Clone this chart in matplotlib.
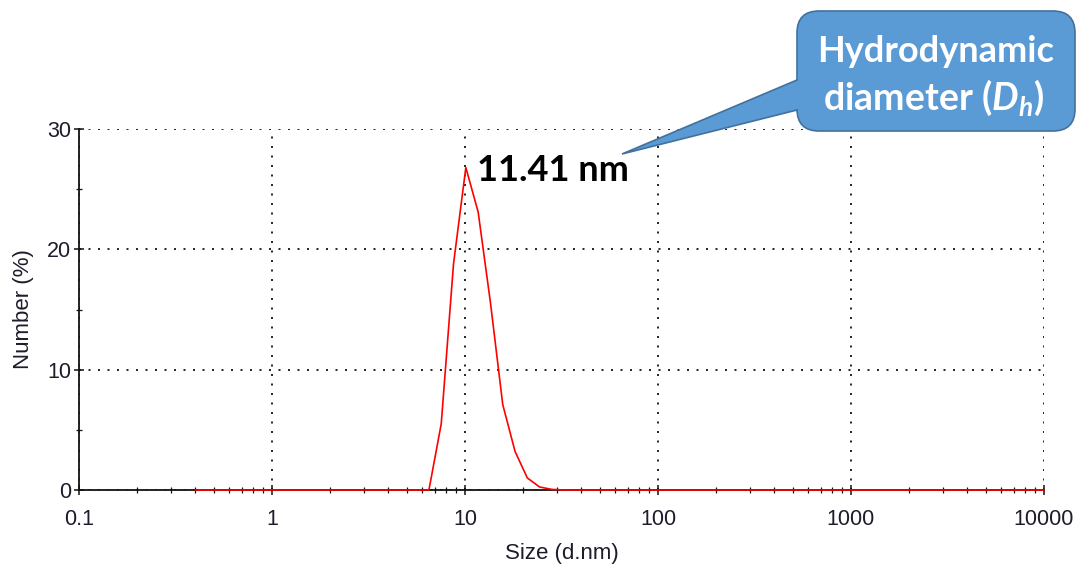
"""
DLS number distribution plot with the hydrodynamic diameter callout.
"""

import matplotlib.pyplot as plt
import numpy as np
from matplotlib.path import Path
from matplotlib.patches import PathPatch
from matplotlib.ticker import FixedLocator, LogLocator, NullFormatter

plt.rcParams['font.family'] = ['Liberation Sans', 'DejaVu Sans']
plt.rcParams['mathtext.fontset'] = 'custom'
plt.rcParams['mathtext.rm'] = 'Lato:bold'
plt.rcParams['mathtext.it'] = 'Lato:bold:italic'

# size bins (d.nm) and number distribution (%)
size_nm = [0.4, 0.4632, 0.5365, 0.6213, 0.7195, 0.8332, 0.9649, 1.117, 1.294,
           1.499, 1.736, 2.01, 2.328, 2.696, 3.122, 3.615, 4.187, 4.849, 5.615,
           6.503, 7.531, 8.721, 10.1, 11.7, 13.54, 15.69, 18.17, 21.04, 24.36,
           28.21, 32.67, 37.84, 43.82, 50.75, 58.77, 68.06, 78.82, 91.28, 105.7,
           122.4, 141.8, 164.2, 190.1, 220.2, 255.0, 295.3, 342.0, 396.1, 458.7,
           531.2, 615.1, 712.4, 825.0, 955.4, 1106, 1281, 1484, 1718, 1990, 2305,
           2669, 3091, 3580, 4145, 4801, 5560, 6439, 7456, 8635, 10000]
number_pct = [0.0] * 20 + [5.5, 18.8, 26.8, 23.1, 15.6, 7.1, 3.2, 1.0, 0.25,
                           0.05] + [0.0] * 40

x_ticks = [0.1, 1, 10, 100, 1000, 10000]
x_tick_labels = ['0.1', '1', '10', '100', '1000', '10000']
y_ticks = [0, 10, 20, 30]
peak_label = '11.41 nm'

W, H = 1079, 565
fig = plt.figure(figsize=(W / 100, H / 100), dpi=100)
ax = fig.add_axes([79 / W, 1 - 490 / H, (1044 - 79) / W, (490 - 129) / H])

ax.plot(size_nm, number_pct, color='#ff0000', lw=1.2, zorder=3, clip_on=False)

ax.set_xscale('log')
ax.set_xlim(0.1, 10000)
ax.set_ylim(0, 30)
ax.set_xticks(x_ticks)
ax.set_xticklabels(x_tick_labels)
ax.xaxis.set_minor_locator(LogLocator(base=10, subs=np.arange(2, 10)))
ax.xaxis.set_minor_formatter(NullFormatter())
ax.set_yticks(y_ticks)
ax.yaxis.set_minor_locator(FixedLocator([5, 15, 25]))

for side in ('top', 'right'):
    ax.spines[side].set_visible(False)
for side in ('left', 'bottom'):
    ax.spines[side].set_linewidth(1.3)
    ax.spines[side].set_color('#111111')

ax.tick_params(which='major', direction='inout', length=7.5, width=1.1,
               colors='#111111', labelsize=15.5, labelcolor='#1c1c2c')
ax.tick_params(which='minor', direction='inout', length=4.5, width=0.9,
               colors='#111111')
ax.tick_params(axis='x', which='major', pad=10)
ax.tick_params(axis='y', which='major', pad=2)
ax.grid(True, which='major', color='black', linestyle=(0, (1.2, 4.5)),
        linewidth=1.2)
ax.set_axisbelow(True)

ax.set_xlabel('Size (d.nm)', fontsize=16, color='#1c1c2c', labelpad=9)
ax.set_ylabel('Number (%)', fontsize=16, color='#1c1c2c', labelpad=9)

# peak label
peak_i = int(np.argmax(number_pct))
ax.annotate(peak_label, xy=(size_nm[peak_i], number_pct[peak_i]),
            xytext=(8, -2), textcoords='offset points', ha='left', va='center',
            fontsize=26, fontweight='bold', family='Lato', color='black')

# speech-bubble callout, laid out in figure pixels (y down)
x0, x1, y0, y1, r = 797, 1075, 11, 131, 22
tip = (622, 154)
pts = [(x0 + r, y0), (x1 - r, y0), (x1, y0), (x1, y0 + r), (x1, y1 - r),
       (x1, y1), (x1 - r, y1), (x0 + r, y1), (x0, y1), (x0, y1 - r),
       (x0, 110), tip, (x0, 80), (x0, y0 + r), (x0, y0), (x0 + r, y0)]
codes = [Path.MOVETO, Path.LINETO, Path.CURVE3, Path.CURVE3, Path.LINETO,
         Path.CURVE3, Path.CURVE3, Path.LINETO, Path.CURVE3, Path.CURVE3,
         Path.LINETO, Path.LINETO, Path.LINETO, Path.LINETO, Path.CURVE3,
         Path.CURVE3]
verts = [(px / W, 1 - py / H) for px, py in pts]
bubble = PathPatch(Path(verts, codes), transform=fig.transFigure,
                   facecolor='#5b9bd5', edgecolor='#41719c', lw=1.2,
                   zorder=5)
fig.patches.append(bubble)
fig.text(936 / W, 1 - 62 / H, 'Hydrodynamic', ha='center', va='baseline',
         fontsize=26, fontweight='bold', family='Lato', color='white',
         zorder=6)
fig.text(934 / W, 1 - 110 / H, r'diameter ($D_h$)', ha='center',
         va='baseline', fontsize=27, fontweight='bold', family='Lato',
         color='white', zorder=6)

fig.savefig('out.png', dpi=100)
